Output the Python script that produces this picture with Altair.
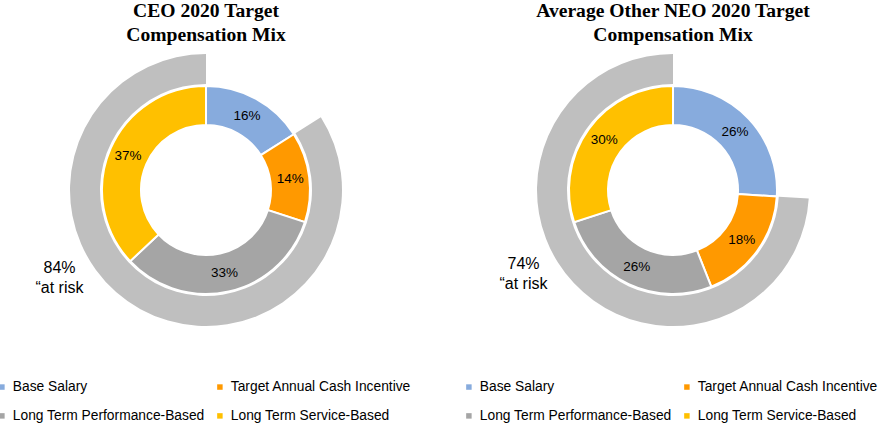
import altair as alt
import pandas as pd

categories = ["Base Salary", "Target Annual Cash Incentive",
              "Long Term Performance-Based", "Long Term Service-Based"]
colors = ["#87ABDD", "#FF9900", "#A5A5A5", "#FFC000"]
ceo_values = [16, 14, 33, 37]
neo_values = [26, 18, 26, 30]
ceo_at_risk = 84
neo_at_risk = 74
titles = [["CEO 2020 Target", "Compensation Mix"],
          ["Average Other NEO 2020 Target", "Compensation Mix"]]

FONT = "Liberation Sans"
SERIF = "Liberation Serif"

def panel(values, at_risk, title, cx, cy, legend_x, key, risk_x, risk_y):
    df = pd.DataFrame({
        "cat": categories,
        "v": values,
        "ord": list(range(len(categories))),
        "lbl": [f"{v}%" for v in values],
    })
    risk = pd.DataFrame({"part": ["fixed", "risk"],
                         "v": [100 - at_risk, at_risk],
                         "ord": [0, 1]})
    color_field = f"{key}"
    df[color_field] = df["cat"]
    outer = alt.Chart(risk).mark_arc(radius=136, radius2=106).encode(
        theta=alt.Theta("v:Q", stack=True),
        order=alt.Order("ord:Q"),
        opacity=alt.Opacity("part:N", scale=alt.Scale(domain=["fixed", "risk"], range=[0, 1]), legend=None),
        x=alt.value(cx), y=alt.value(cy),
    ).encode(color=alt.value("#BFBFBF"))
    inner = alt.Chart(df).mark_arc(radius=104, radius2=65, stroke="white", strokeWidth=2).encode(
        theta=alt.Theta("v:Q", stack=True),
        order=alt.Order("ord:Q"),
        color=alt.Color(f"{color_field}:N",
                        scale=alt.Scale(domain=categories, range=colors),
                        sort=categories,
                        legend=alt.Legend(
                            title=None, orient="none", legendX=legend_x, legendY=380,
                            direction="horizontal", columns=2, symbolType="square",
                            symbolSize=30, symbolStrokeWidth=0, labelFont=FONT,
                            labelFontSize=13.8, labelColor="#000000", rowPadding=14,
                            columnPadding=8, labelOffset=4, symbolOffset=0,
                            labelLimit=300)),
        x=alt.value(cx), y=alt.value(cy),
    )
    text = alt.Chart(df).mark_text(radius=85, font=FONT, fontSize=13.5, color="#000000").encode(
        theta=alt.Theta("v:Q", stack=True),
        order=alt.Order("ord:Q"),
        text="lbl:N",
        x=alt.value(cx), y=alt.value(cy),
    )
    tdf = pd.DataFrame({"t": [title]})
    ttl = alt.Chart(tdf).mark_text(font=SERIF, fontSize=19.6, fontWeight="bold",
                                   color="#000000", lineHeight=24, baseline="alphabetic").encode(
        text="t", x=alt.value(cx), y=alt.value(17))
    rdf = pd.DataFrame({"t": [[f"{at_risk}%", "\u201cat risk"]]})
    rtxt = alt.Chart(rdf).mark_text(font=FONT, fontSize=16, color="#000000",
                                    lineHeight=20, baseline="alphabetic").encode(
        text="t", x=alt.value(risk_x), y=alt.value(risk_y))
    return [outer, inner, text, ttl, rtxt]

layers = panel(ceo_values, ceo_at_risk, titles[0], 206, 190, -5, "CEO", 59.5, 273) + \
         panel(neo_values, neo_at_risk, titles[1], 673, 190, 462, "NEO", 523.5, 269)

chart = alt.layer(*layers).resolve_scale(color="independent", opacity="independent", theta="independent").properties(
    width=880, height=424, autosize=alt.AutoSizeParams(type="none"), padding=0
).configure_view(stroke=None)

chart.save("out.html", embed_options={"renderer": "svg", "actions": False})
